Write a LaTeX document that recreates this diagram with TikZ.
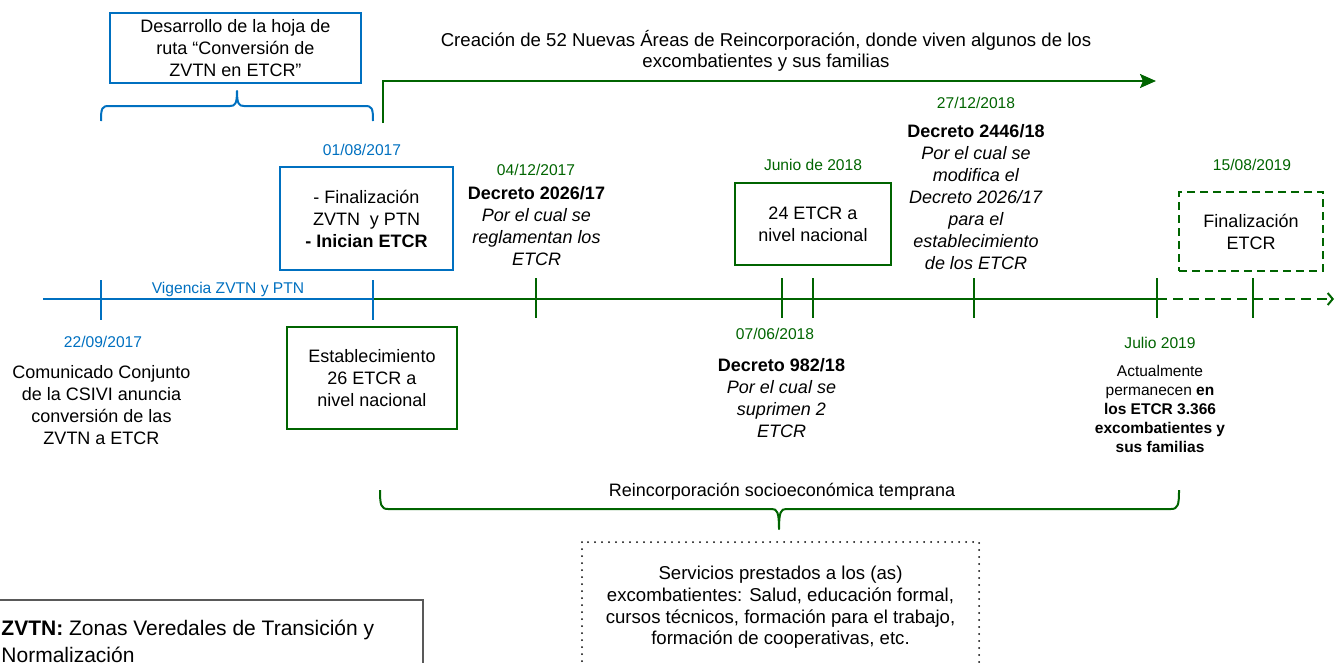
\documentclass[tikz,border=0pt]{standalone}
\usepackage{fontspec}
\setmainfont{Liberation Sans}
\usetikzlibrary{arrows.meta}
\definecolor{cblue}{RGB}{0,112,192}
\definecolor{cgreen}{RGB}{0,100,0}
\definecolor{cgrey}{RGB}{89,89,89}

\begin{document}
\begin{tikzpicture}[x=1pt,y=-1pt,
  every node/.style={inner sep=0pt, outer sep=0pt},
  datelbl/.style={font=\fontsize{15.6}{19}\selectfont},
  bluedate/.style={datelbl, text=cblue},
  greendate/.style={datelbl, text=cgreen},
  body/.style={font=\fontsize{18}{22}\selectfont, align=center},
  small/.style={font=\fontsize{15.5}{19}\selectfont, align=center},
  framebox/.style={draw, line width=2pt, body},
  axis/.style={line width=2pt},
  tick/.style={line width=2pt},
  bracepath/.style={line width=2pt, line join=round},
]
\useasboundingbox (0,0) rectangle (1335,662);
\clip (0,0) rectangle (1335,662);

% ---------- time axis ----------
\coordinate (a0) at (43,299);
\coordinate (t1) at (101,299);
\coordinate (t2) at (373,299);
\coordinate (t3) at (536,299);
\coordinate (t4) at (782,299);
\coordinate (t5) at (813,299);
\coordinate (t6) at (974,299);
\coordinate (t7) at (1157,299);
\coordinate (t8) at (1253,299);
\coordinate (aend) at (1334,299);

\draw[axis, cblue] (a0) -- (t2);
\draw[axis, cgreen] (t2) -- (t7);
\draw[axis, cgreen, dash pattern=on 10pt off 6pt,
      -{Straight Barb[length=5pt,width=12pt]}] (t7) -- (aend);

\foreach \t in {t1,t2}
  \draw[tick, cblue] ([yshift=19pt]\t) -- ([yshift=-21pt]\t);
\foreach \t in {t3,t4,t5,t6,t7,t8}
  \draw[tick, cgreen] ([yshift=21pt]\t) -- ([yshift=-19pt]\t);

\node[text=cblue, font=\fontsize{15.6}{19}\selectfont] (vig) at (228,289) {Vigencia ZVTN y PTN};

% ---------- new reincorporation areas ----------
\coordinate (g0) at (383,123);
\coordinate (g1) at (383,81);
\coordinate (g2) at (1156,81);
\draw[line width=2pt, cgreen, -{Stealth[length=16pt,width=14pt,inset=3pt]}] (g0) -- (g1) -- (g2);
\node[body, font=\fontsize{18.6}{21.5}\selectfont] (areas) at (766,51)
  {Creación de 52 Nuevas Áreas de Reincorporación, donde viven algunos de los\\excombatientes y sus familias};

% ---------- road map ----------
\node[framebox, draw=cblue, minimum width=251pt, minimum height=70pt] (hoja) at (235.5,48)
  {Desarrollo de la hoja de\\ruta “Conversión de\\ZVTN en ETCR”};
\draw[bracepath, cblue]
  (101,121) .. controls (101,108) and (102,106) .. (109,106) -- (230,106)
  .. controls (235,106) and (237,104) .. (237,91)
  .. controls (237,104) and (239,106) .. (244,106) -- (365,106)
  .. controls (372,106) and (373,108) .. (373,121);

% ---------- 22/09/2017 ----------
\node[bluedate] (d1) at (103,342) {22/09/2017};
\node[body] (comunicado) at (101.5,405)
  {Comunicado Conjunto\\de la CSIVI anuncia\\conversión de las\\ZVTN a ETCR};

% ---------- 01/08/2017 ----------
\node[bluedate] (d2) at (362,150) {01/08/2017};
\node[framebox, draw=cblue, minimum width=173pt, minimum height=103pt] (fin) at (366.5,218.5)
  {- Finalización\\ZVTN\ \ y PTN\\\textbf{- Inician ETCR}};
\node[framebox, draw=cgreen, minimum width=170pt, minimum height=102pt] (estab) at (372,378)
  {Establecimiento\\26 ETCR a\\nivel nacional};

% ---------- 04/12/2017 ----------
\node[greendate] (d3) at (536,170) {04/12/2017};
\node[body] (dec1) at (536.5,226.5)
  {\textbf{Decreto 2026/17}\\\textit{Por el cual se}\\\textit{reglamentan los}\\\textit{ETCR}};

% ---------- June 2018 ----------
\node[greendate] (d4) at (813,165) {Junio de 2018};
\node[framebox, draw=cgreen, minimum width=156pt, minimum height=82pt] (n24) at (813,224)
  {24 ETCR a\\nivel nacional};

\node[greendate] (d5) at (775,334) {07/06/2018};
\node[body] (dec2) at (781.5,398.5)
  {\textbf{Decreto 982/18}\\\textit{Por el cual se}\\\textit{suprimen 2}\\\textit{ETCR}};

% ---------- 27/12/2018 ----------
\node[greendate] (d6) at (976,103) {27/12/2018};
\node[body] (dec3) at (976,197.5)
  {\textbf{Decreto 2446/18}\\\textit{Por el cual se}\\\textit{modifica el}\\\textit{Decreto 2026/17}\\\textit{para el}\\\textit{establecimiento}\\\textit{de los ETCR}};

% ---------- July 2019 ----------
\node[greendate] (d7) at (1160,343) {Julio 2019};
\node[small] (actual) at (1160,409)
  {Actualmente\\permanecen \textbf{en}\\\textbf{los ETCR 3.366}\\\textbf{excombatientes y}\\\textbf{sus familias}};

% ---------- 15/08/2019 ----------
\node[greendate] (d8) at (1252,165) {15/08/2019};
\node[framebox, draw=cgreen, dash pattern=on 8pt off 5pt, minimum width=144pt, minimum height=79pt] (finetcr) at (1251,231.5)
  {Finalización\\ETCR};

% ---------- early socio-economic reincorporation ----------
\draw[bracepath, cgreen]
  (380,490) .. controls (380,505) and (381,509) .. (388,509) -- (772,509)
  .. controls (777,509) and (779,512) .. (779,529)
  .. controls (779,512) and (781,509) .. (786,509) -- (1171,509)
  .. controls (1178,509) and (1179,505) .. (1179,490);
\node[body] (reinc) at (782,492) {Reincorporación socioeconómica temprana};

\draw[line width=2pt, dash pattern=on 0pt off 7pt, line cap=round] (582,542) rectangle (979,680);
\node[body, font=\fontsize{18.6}{21.7}\selectfont] (servicios) at (780.5,607.5)
  {Servicios prestados a los (as)\\excombatientes: Salud, educación formal,\\cursos técnicos, formación para el trabajo,\\formación de cooperativas, etc.};

% ---------- glossary ----------
\draw[cgrey, line width=2.5pt] (-10,600) rectangle (423,720);
\node[font=\fontsize{21}{27}\selectfont, align=left, anchor=west] (glosario) at (1.5,641)
  {\textbf{ZVTN:} Zonas Veredales de Transición y\\Normalización};
\end{tikzpicture}
\end{document}
